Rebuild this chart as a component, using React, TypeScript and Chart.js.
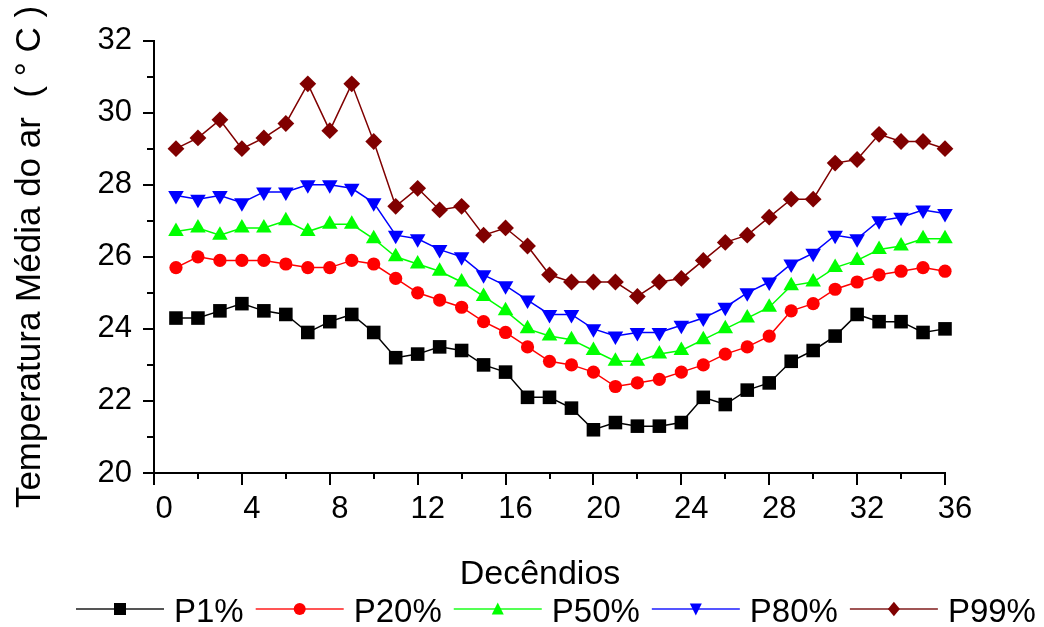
import React, { useEffect, useRef } from "react";
import { Chart, registerables } from "chart.js";

Chart.register(...registerables);

const decendios = [1, 2, 3, 4, 5, 6, 7, 8, 9, 10, 11, 12, 13, 14, 15, 16, 17, 18, 19, 20, 21, 22, 23, 24, 25, 26, 27, 28, 29, 30, 31, 32, 33, 34, 35, 36];

const p1 = [24.3, 24.3, 24.5, 24.7, 24.5, 24.4, 23.9, 24.2, 24.4, 23.9, 23.2, 23.3, 23.5, 23.4, 23.0, 22.8, 22.1, 22.1, 21.8, 21.2, 21.4, 21.3, 21.3, 21.4, 22.1, 21.9, 22.3, 22.5, 23.1, 23.4, 23.8, 24.4, 24.2, 24.2, 23.9, 24.0];
const p20 = [25.7, 26.0, 25.9, 25.9, 25.9, 25.8, 25.7, 25.7, 25.9, 25.8, 25.4, 25.0, 24.8, 24.6, 24.2, 23.9, 23.5, 23.1, 23.0, 22.8, 22.4, 22.5, 22.6, 22.8, 23.0, 23.3, 23.5, 23.8, 24.5, 24.7, 25.1, 25.3, 25.5, 25.6, 25.7, 25.6];
const p50 = [26.7, 26.8, 26.6, 26.8, 26.8, 27.0, 26.7, 26.9, 26.9, 26.5, 26.0, 25.8, 25.6, 25.3, 24.9, 24.5, 24.0, 23.8, 23.7, 23.4, 23.1, 23.1, 23.3, 23.4, 23.7, 24.0, 24.3, 24.6, 25.2, 25.3, 25.7, 25.9, 26.2, 26.3, 26.5, 26.5];
const p80 = [27.7, 27.6, 27.7, 27.5, 27.8, 27.8, 28.0, 28.0, 27.9, 27.5, 26.6, 26.5, 26.2, 26.0, 25.5, 25.2, 24.8, 24.4, 24.4, 24.0, 23.8, 23.9, 23.9, 24.1, 24.3, 24.6, 25.0, 25.3, 25.8, 26.1, 26.6, 26.5, 27.0, 27.1, 27.3, 27.2];
const p99 = [29.0, 29.3, 29.8, 29.0, 29.3, 29.7, 30.8, 29.5, 30.8, 29.2, 27.4, 27.9, 27.3, 27.4, 26.6, 26.8, 26.3, 25.5, 25.3, 25.3, 25.3, 24.9, 25.3, 25.4, 25.9, 26.4, 26.6, 27.1, 27.6, 27.6, 28.6, 28.7, 29.4, 29.2, 29.2, 29.0];

const xMajorTicks = [0, 4, 8, 12, 16, 20, 24, 28, 32, 36];
const xMinorTicks = [2, 6, 10, 14, 18, 22, 26, 30, 34];
const yMajorTicks = [20, 22, 24, 26, 28, 30, 32];
const yMinorTicks = [21, 23, 25, 27, 29, 31];

const seriesLabels = ["P1%", "P20%", "P50%", "P80%", "P99%"];
const seriesColors = ["#000000", "#ff0000", "#00ff00", "#0000ff", "#800000"];
const legendLineColors = ["#555555", "#ff5555", "#55ff55", "#5555ff", "#a05555"];
const seriesStyles = ["rect", "circle", "triangle", "triangleDown", "rectRot"];

const xTitle = "Decêndios";
const yTitle = "Temperatura Média do ar  ( ° C )";

const FONT = "'Liberation Sans', Arial, sans-serif";

function drawMarker(ctx: CanvasRenderingContext2D, style: string, x: number, y: number, s: number) {
  ctx.beginPath();
  if (style === "rect") {
    ctx.rect(x - s * 0.5, y - s * 0.5, s, s);
  } else if (style === "circle") {
    ctx.arc(x, y, s * 0.5, 0, Math.PI * 2);
  } else if (style === "triangle") {
    ctx.moveTo(x, y - s * 0.55);
    ctx.lineTo(x + s * 0.5, y + s * 0.45);
    ctx.lineTo(x - s * 0.5, y + s * 0.45);
    ctx.closePath();
  } else if (style === "triangleDown") {
    ctx.moveTo(x, y + s * 0.55);
    ctx.lineTo(x + s * 0.5, y - s * 0.45);
    ctx.lineTo(x - s * 0.5, y - s * 0.45);
    ctx.closePath();
  } else {
    ctx.moveTo(x, y - s * 0.6);
    ctx.lineTo(x + s * 0.5, y);
    ctx.lineTo(x, y + s * 0.6);
    ctx.lineTo(x - s * 0.5, y);
    ctx.closePath();
  }
  ctx.fill();
}

const overlay = {
  id: "overlay",
  afterDraw(chart: any) {
    const ctx: CanvasRenderingContext2D = chart.ctx;
    const xs = chart.scales.x;
    const ys = chart.scales.y;
    const { left, bottom } = chart.chartArea;
    ctx.save();
    ctx.strokeStyle = "#000";
    ctx.lineWidth = 2;
    ctx.lineCap = "butt";
    yMajorTicks.forEach((v) => {
      const py = Math.round(ys.getPixelForValue(v));
      ctx.beginPath();
      ctx.moveTo(left, py);
      ctx.lineTo(left - 11, py);
      ctx.stroke();
    });
    yMinorTicks.forEach((v) => {
      const py = Math.round(ys.getPixelForValue(v));
      ctx.beginPath();
      ctx.moveTo(left, py);
      ctx.lineTo(left - 7, py);
      ctx.stroke();
    });
    xMajorTicks.forEach((v) => {
      const px = Math.round(xs.getPixelForValue(v));
      ctx.beginPath();
      ctx.moveTo(px, bottom);
      ctx.lineTo(px, bottom + 12);
      ctx.stroke();
    });
    xMinorTicks.forEach((v) => {
      const px = Math.round(xs.getPixelForValue(v));
      ctx.beginPath();
      ctx.moveTo(px, bottom);
      ctx.lineTo(px, bottom + 6);
      ctx.stroke();
    });

    ctx.fillStyle = "#000";
    // x title
    ctx.font = `34px ${FONT}`;
    ctx.textAlign = "center";
    ctx.textBaseline = "alphabetic";
    ctx.fillText(xTitle, 540, 584);

    // y title
    ctx.save();
    ctx.font = `35px ${FONT}`;
    ctx.translate(40, 257);
    ctx.rotate(-Math.PI / 2);
    ctx.textAlign = "center";
    ctx.fillText(yTitle, 0, 0);
    ctx.restore();

    // legend
    ctx.font = `33px ${FONT}`;
    ctx.textAlign = "left";
    let cx = 76;
    const ly = 609;
    seriesLabels.forEach((lab, i) => {
      ctx.strokeStyle = legendLineColors[i];
      ctx.lineWidth = 2;
      ctx.beginPath();
      ctx.moveTo(cx, ly);
      ctx.lineTo(cx + 88, ly);
      ctx.stroke();
      ctx.fillStyle = seriesColors[i];
      drawMarker(ctx, seriesStyles[i], cx + 44, ly, 12);
      ctx.fillStyle = "#000";
      ctx.fillText(lab, cx + 98, ly + 13);
      cx += 98 + ctx.measureText(lab).width + 12;
    });
    ctx.restore();
  },
};

export default function App() {
  const ref = useRef<HTMLCanvasElement>(null);
  useEffect(() => {
    document.body.style.margin = "0";
    const canvas = ref.current!;
    const pointCfg: any[] = [
      { style: "rect", r: 9.6, rot: 0 },
      { style: "circle", r: 6.6, rot: 0 },
      { style: "triangle", r: 9, rot: 0 },
      { style: "triangle", r: 9, rot: 180 },
      { style: "rectRot", r: 8.4, rot: 0 },
    ];
    const allData = [p1, p20, p50, p80, p99];
    const datasets = allData.map((vals, i) => ({
      label: seriesLabels[i],
      data: vals.map((v, k) => ({ x: decendios[k], y: v })),
      borderColor: seriesColors[i],
      backgroundColor: seriesColors[i],
      pointBackgroundColor: seriesColors[i],
      pointBorderColor: seriesColors[i],
      pointBorderWidth: 0,
      pointRadius: pointCfg[i].r,
      pointStyle: pointCfg[i].style,
      pointRotation: pointCfg[i].rot,
      borderWidth: 1.5,
      tension: 0,
      fill: false,
      clip: false as any,
    }));
    const chart = new Chart(canvas, {
      type: "line",
      data: { datasets },
      options: {
        responsive: false,
        animation: false,
        devicePixelRatio: 1,
        events: [],
        layout: { padding: { left: 0, top: 38, right: 99, bottom: 0 } },
        plugins: {
          legend: { display: false },
          tooltip: { enabled: false },
          title: { display: false },
        },
        scales: {
          x: {
            type: "linear",
            min: 0,
            max: 36,
            afterBuildTicks: (s: any) => {
              s.ticks = xMajorTicks.map((v) => ({ value: v }));
            },
            grid: { display: false, drawTicks: false },
            border: { display: true, color: "#000", width: 2 },
            ticks: {
              font: { family: FONT, size: 31 },
              color: "#000",
              padding: 18,
              labelOffset: 10,
              maxRotation: 0,
              autoSkip: false,
            },
            afterFit: (s: any) => {
              s.height = 154;
            },
          },
          y: {
            type: "linear",
            min: 20,
            max: 32,
            afterBuildTicks: (s: any) => {
              s.ticks = yMajorTicks.map((v) => ({ value: v }));
            },
            grid: { display: false, drawTicks: false },
            border: { display: true, color: "#000", width: 2 },
            ticks: {
              font: { family: FONT, size: 31 },
              color: "#000",
              padding: 22,
              autoSkip: false,
            },
            afterFit: (s: any) => {
              s.width = 154;
            },
          },
        },
      },
      plugins: [overlay],
    });
    return () => chart.destroy();
  }, []);
  return (
    <div style={{ position: "fixed", left: 0, top: 0, width: 1044, height: 627, background: "#fff" }}>
      <canvas ref={ref} width={1044} height={627} style={{ display: "block" }} />
    </div>
  );
}
